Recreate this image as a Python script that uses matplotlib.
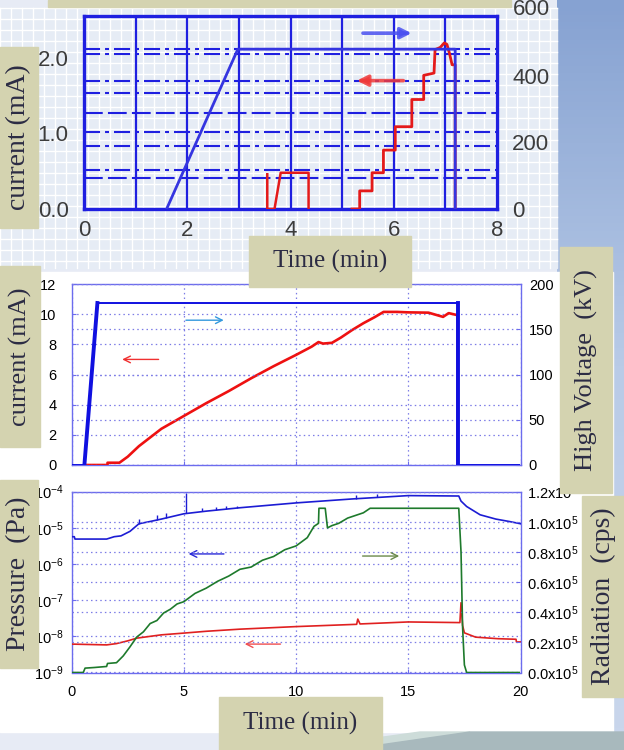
import matplotlib
matplotlib.use("Agg")
import matplotlib.pyplot as plt
import numpy as np
from matplotlib.patches import Rectangle, Polygon
from matplotlib.ticker import NullLocator

# ---------------- data ----------------
# top panel (old record): time in min, current in mA, high voltage in kV
top_hv_t = [1.60, 2.98, 7.19, 7.19]
top_hv_kv = [0, 480, 480, 0]
top_i1_t = [3.55, 3.55, 3.69, 3.81, 4.35, 4.35]
top_i1_ma = [0.46, 0.0, 0.0, 0.48, 0.48, 0.0]
top_i2_t = [5.19, 5.34, 5.34, 5.58, 5.58, 5.80, 5.80, 6.03, 6.03, 6.35, 6.35,
            6.58, 6.58, 6.78, 6.80, 6.90, 6.98, 7.03, 7.08, 7.13, 7.19, 7.19]
top_i2_ma = [0.0, 0.0, 0.24, 0.24, 0.48, 0.48, 0.78, 0.78, 1.09, 1.09, 1.45,
             1.45, 1.77, 1.80, 2.11, 2.14, 2.20, 2.18, 2.06, 1.91, 1.91, 0.0]
top_grid_dashdot = [2.12, 2.05, 1.70, 1.54, 1.02, 0.84, 0.51]
top_grid_dashed = [1.27, 0.41]
top_xticks = [0, 2, 4, 6, 8]
top_yticks = [0.0, 1.0, 2.0]
top_rticks = [0, 200, 400]

# middle panel: current (mA) and high voltage (kV)
mid_hv_t = [0.0, 0.57, 1.15, 17.2, 17.2, 20.0]
mid_hv_kv = [0, 0, 179, 179, 0, 0]
mid_i_t = [0.57, 1.60, 1.60, 2.13, 2.5, 3.0, 4.0, 5.0, 6.0, 7.0, 8.0, 9.0, 10.0,
           10.7, 11.0, 11.2, 11.6, 12.0, 12.5, 13.0, 13.5, 13.9, 14.5, 15.0,
           15.9, 16.55, 16.8, 17.2, 17.2]
mid_i_ma = [0, 0, 0.15, 0.15, 0.55, 1.25, 2.4, 3.25, 4.1, 4.9, 5.75, 6.55, 7.3,
            7.85, 8.15, 8.05, 8.1, 8.45, 8.95, 9.4, 9.8, 10.15, 10.15, 10.12,
            10.1, 9.82, 10.07, 9.93, 0]

# bottom panel: pressures (Pa) and radiation (cps)
p_hi_t = [0.0, 0.12, 0.15, 1.56, 1.9, 2.2, 2.6, 3.0, 3.5, 4.0, 5.0, 6.0, 7.5,
          10.0, 12.5, 15.0, 17.25, 17.35, 17.6, 18.2, 18.9, 19.5, 20.0]
p_hi = [5.7e-6, 5.7e-6, 4.9e-6, 4.9e-6, 5.7e-6, 6.0e-6, 8.0e-6, 1.3e-5, 1.5e-5,
        1.75e-5, 2.45e-5, 2.9e-5, 3.6e-5, 4.9e-5, 6.3e-5, 7.8e-5, 7.6e-5,
        5.5e-5, 3.9e-5, 2.3e-5, 1.75e-5, 1.5e-5, 1.3e-5]
spike_t = [3.0, 3.8, 4.2, 5.09, 5.8, 6.43, 6.88, 7.36, 12.67, 13.6]
spike_lo = [1.3e-5, 1.65e-5, 1.85e-5, 2.5e-5, 2.85e-5, 3.1e-5, 3.3e-5, 3.55e-5, 6.3e-5, 7.0e-5]
spike_hi = [1.8e-5, 2.3e-5, 2.5e-5, 9.5e-5, 3.6e-5, 3.8e-5, 4.0e-5, 4.1e-5, 8.2e-5, 8.6e-5]
p_lo_t = [0.0, 1.56, 2.0, 2.5, 2.9, 3.5, 4.0, 5.0, 6.0, 7.5, 10.0, 12.7, 12.75,
          12.85, 15.0, 17.3, 17.35, 17.42, 17.5, 18.0, 19.0, 19.8, 19.82, 20.0]
p_lo = [6.1e-9, 5.8e-9, 6.3e-9, 7.5e-9, 8.9e-9, 1.0e-8, 1.1e-8, 1.23e-8, 1.38e-8,
        1.58e-8, 1.86e-8, 2.15e-8, 3.0e-8, 2.2e-8, 2.5e-8, 2.4e-8, 8.5e-8,
        2.0e-8, 1.25e-8, 9.5e-9, 8.6e-9, 8.3e-9, 7.0e-9, 7.0e-9]
rad_t = [0.0, 0.52, 0.6, 1.0, 1.56, 1.6, 2.0, 2.3, 2.6, 2.9, 3.2, 3.5, 3.8, 4.1,
         4.4, 4.7, 5.0, 5.5, 6.0, 6.5, 7.0, 7.5, 8.0, 8.5, 9.0, 9.5, 10.0, 10.5,
         10.8, 11.0, 11.02, 11.3, 11.4, 11.6, 11.9, 12.3, 12.7, 13.0, 13.3,
         17.25, 17.35, 17.42, 17.5, 17.6, 20.0]
rad = [0.0, 0.0, 0.029, 0.033, 0.04, 0.06, 0.065, 0.11, 0.17, 0.235, 0.27, 0.325,
       0.345, 0.395, 0.42, 0.455, 0.47, 0.525, 0.56, 0.605, 0.64, 0.685, 0.70,
       0.745, 0.77, 0.815, 0.84, 0.895, 0.97, 0.99, 1.09, 1.09, 0.96, 0.975,
       0.99, 1.025, 1.045, 1.06, 1.09, 1.09, 0.8, 0.3, 0.05, 0.0, 0.0]
rad = [r * 1e5 for r in rad]

# ---------------- layout helpers ----------------
W, H = 624, 750
TAN = "#d4d3b0"
SERIF = ["Liberation Serif", "DejaVu Serif"]
SANS = ["Liberation Sans", "DejaVu Sans"]
plt.rcParams["font.family"] = SANS
plt.rcParams["mathtext.fontset"] = "custom"
plt.rcParams["mathtext.rm"] = "Liberation Sans"
plt.rcParams["mathtext.it"] = "Liberation Sans:italic"


def rect(x0, y0, x1, y1):
    return [x0 / W, 1 - y1 / H, (x1 - x0) / W, (y1 - y0) / H]


fig = plt.figure(figsize=(W / 100, H / 100), dpi=100, facecolor="#e7ebf5")

# background layer (slide)
bg = fig.add_axes([0, 0, 1, 1], zorder=0)
bg.set_xlim(0, W)
bg.set_ylim(H, 0)
bg.axis("off")
grad = np.linspace(0, 1, 200).reshape(-1, 1)
bg.imshow(grad, extent=(557, W, 732, 0), cmap=matplotlib.colors.LinearSegmentedColormap.from_list(
    "sl", ["#86a2d2", "#b9cbe7", "#c9d6ec"]), aspect="auto", zorder=0)
bg.add_patch(Rectangle((0, 8), 557, 260, color="#e6ecf5", zorder=1))
for gx in np.arange(0, 557, 11):
    bg.plot([gx, gx], [8, 268], color="white", lw=1.0, zorder=2)
for gy in np.arange(8, 268, 11):
    bg.plot([0, 557], [gy, gy], color="white", lw=1.0, zorder=2)
bg.add_patch(Rectangle((0, 272), 613, 460, color="white", zorder=1))
bg.add_patch(Polygon([(290, 750), (420, 732), (470, 732), (345, 750)], color="#cddcd9", zorder=1))
bg.add_patch(Polygon([(345, 750), (470, 732), (W, 732), (W, 750)], color="#a8b9bd", zorder=1))

# ---------------- top panel ----------------
BLUE_T = "#1f1fe0"
ax1 = fig.add_axes(rect(84, 16, 497, 209), zorder=2)
ax1.set_facecolor("none")
ax1.set_xlim(0, 8)
ax1.set_ylim(0, 2.556)
for m in range(1, 8):
    ax1.axvline(m, color=BLUE_T, lw=1.6, zorder=1)
for lv in top_grid_dashdot:
    ax1.axhline(lv, color=BLUE_T, lw=1.5, ls=(0, (7.7, 2.4, 1.9, 2.4)), zorder=1)
for lv in top_grid_dashed:
    ax1.axhline(lv, color=BLUE_T, lw=1.5, ls=(0, (9, 2.5)), zorder=1)
for s in ax1.spines.values():
    s.set_color(BLUE_T)
    s.set_linewidth(2.4)
ax1.plot(top_i1_t, top_i1_ma, color="#e41a1a", lw=1.8, zorder=3)
ax1.plot(top_i2_t, top_i2_ma, color="#e41a1a", lw=2.0, zorder=3)
ax1.set_xticks(top_xticks)
ax1.set_yticks(top_yticks)
ax1.set_yticklabels([f"{v:.1f}" for v in top_yticks])
ax1.tick_params(length=0, labelsize=16, labelcolor="#3c3c3c", pad=8)
ax1.tick_params(axis="y", pad=11)
ax1.annotate("", xy=(5.23, 1.70), xytext=(6.24, 1.70),
             arrowprops=dict(arrowstyle="-|>", color="#f03a3a", lw=2.6, mutation_scale=16, alpha=0.85))

ax1r = ax1.twinx()
ax1r.set_zorder(3)
ax1r.set_ylim(0, 579.6)
ax1r.plot(top_hv_t, top_hv_kv, color="#3535e0", lw=2.0, zorder=2)
ax1r.set_yticks(top_rticks)
ax1r.tick_params(length=0, labelsize=16, labelcolor="#3c3c3c", pad=11)
for s in ax1r.spines.values():
    s.set_visible(False)
ax1r.annotate("600", xy=(1, 600), xycoords=("axes fraction", "data"), xytext=(11.5, 0),
              textcoords="offset points", va="center", ha="left", fontsize=16,
              color="#3c3c3c", annotation_clip=False)
ax1r.annotate("", xy=(6.40, 528), xytext=(5.35, 528),
              arrowprops=dict(arrowstyle="-|>", color="#4a50f0", lw=2.6, mutation_scale=16, alpha=0.85))

# ---------------- middle panel ----------------
FRAME = "#6c6cee"
GRID = dict(color="#7c7ce6", ls=(0, (1.2, 2.5)), lw=0.9)
ax2 = fig.add_axes(rect(71.6, 284, 520.5, 465), zorder=2)
ax2.set_facecolor("none")
ax2.set_xlim(0, 20)
ax2.set_ylim(0, 12)
ax2.set_xticks([0, 5, 10, 15, 20])
ax2.set_yticks(range(0, 13, 2))
ax2.grid(True, **GRID)
ax2.tick_params(labelbottom=False, direction="in", length=3, color=FRAME,
                labelsize=10.5, pad=11)
for s in ax2.spines.values():
    s.set_color(FRAME)
    s.set_linewidth(1.0)
ax2.plot(mid_i_t, mid_i_ma, color="#ee1111", lw=1.9, zorder=3)
ax2.annotate("", xy=(2.13, 7.0), xytext=(4.0, 7.0),
             arrowprops=dict(arrowstyle="->", color="#f03030", lw=1.0, mutation_scale=12))

ax2r = ax2.twinx()
ax2r.set_zorder(3)
ax2r.set_ylim(0, 200)
ax2r.set_yticks([0, 50, 100, 150, 200])
ax2r.grid(True, axis="y", **GRID)
ax2r.tick_params(direction="in", length=3, color=FRAME, labelsize=10.5, pad=6)
for s in ax2r.spines.values():
    s.set_visible(False)
ax2r.plot(mid_hv_t, mid_hv_kv, color="#1010e0", lw=1.4, zorder=3)
ax2r.plot(mid_hv_t[1:3], mid_hv_kv[1:3], color="#1010e0", lw=2.8, zorder=3)
ax2r.plot(mid_hv_t[3:5], mid_hv_kv[3:5], color="#1010e0", lw=2.8, zorder=3)
ax2r.annotate("", xy=(6.9, 9.6 / 12 * 200), xytext=(4.97, 9.6 / 12 * 200),
              arrowprops=dict(arrowstyle="->", color="#3399dd", lw=1.0, mutation_scale=12))

# ---------------- bottom panel ----------------
ax3 = fig.add_axes(rect(71.6, 491.7, 520.5, 672.5), zorder=2)
ax3.set_facecolor("none")
ax3.set_xlim(0, 20)
ax3.set_yscale("log")
ax3.set_ylim(1e-9, 1e-4)
ax3.set_xticks([0, 5, 10, 15, 20])
dec = [1e-9, 1e-8, 1e-7, 1e-6, 1e-5, 1e-4]
ax3.set_yticks(dec)
ax3.set_yticklabels([r"10$^{\mathregular{%d}}$" % int(np.log10(d)) for d in dec])
ax3.yaxis.set_minor_locator(NullLocator())
ax3.grid(True, **GRID)
ax3.tick_params(direction="in", length=3, color=FRAME, labelsize=10.5, pad=6)
ax3.tick_params(axis="x", pad=9)
for s in ax3.spines.values():
    s.set_color(FRAME)
    s.set_linewidth(1.0)
ax3.plot(p_hi_t, p_hi, color="#1c1cd4", lw=1.2, zorder=3)
ax3.vlines(spike_t, spike_lo, spike_hi, color="#1c1cd4", lw=1.0, zorder=3)
ax3.plot(p_lo_t, p_lo, color="#e02020", lw=1.2, zorder=3)
ax3.annotate("", xy=(5.09, 1.9e-6), xytext=(6.91, 1.9e-6),
             arrowprops=dict(arrowstyle="->", color="#2a2ad8", lw=1.0, mutation_scale=12))
ax3.annotate("", xy=(7.59, 6.1e-9), xytext=(9.43, 6.1e-9),
             arrowprops=dict(arrowstyle="->", color="#f05050", lw=1.0, mutation_scale=12))

ax3r = ax3.twinx()
ax3r.set_zorder(3)
ax3r.set_ylim(0, 1.2e5)
rt = [0, 0.2e5, 0.4e5, 0.6e5, 0.8e5, 1.0e5, 1.2e5]
ax3r.set_yticks(rt)
ax3r.set_yticklabels([r"%.1fx10$^{\mathregular{5}}$" % (v / 1e5) for v in rt])
ax3r.grid(True, axis="y", **GRID)
ax3r.tick_params(direction="in", length=3, color=FRAME, labelsize=10.5, pad=5)
for s in ax3r.spines.values():
    s.set_visible(False)
ax3r.plot(rad_t, rad, color="#1e7a2c", lw=1.2, zorder=3)
ax3r.annotate("", xy=(14.72, 0.773e5), xytext=(12.84, 0.773e5),
              arrowprops=dict(arrowstyle="->", color="#6a8a4a", lw=1.0, mutation_scale=12))

# ---------------- foreground: tan label boxes ----------------
fg = fig.add_axes([0, 0, 1, 1], zorder=10)
fg.set_xlim(0, W)
fg.set_ylim(H, 0)
fg.axis("off")
boxes = [
    (48, 0, 511, 7, "", 0, 0),
    (0, 47, 38, 228, "current (mA)", 90, 20),
    (249, 236, 411, 287, "Time (min)", 0, 18),
    (0, 266, 40, 447, "current (mA)", 90, 19),
    (560, 247, 612, 493, "High Voltage  (kV)", 90, 19),
    (0, 480, 38, 668, "Pressure  (Pa)", 90, 20),
    (582, 496, 624, 697, "Radiation  (cps)", 90, 20),
    (219, 697, 382, 750, "Time (min)", 0, 18),
]
for x0, y0, x1, y1, label, rot, fs in boxes:
    fg.add_patch(Rectangle((x0, y0), x1 - x0, y1 - y0, color=TAN))
    if label:
        fg.text((x0 + x1) / 2, (y0 + y1) / 2, label, rotation=rot, ha="center",
                va="center", fontsize=fs, family=SERIF, color="#2c2c44")

fig.savefig("out.png", dpi=100, facecolor=fig.get_facecolor())
